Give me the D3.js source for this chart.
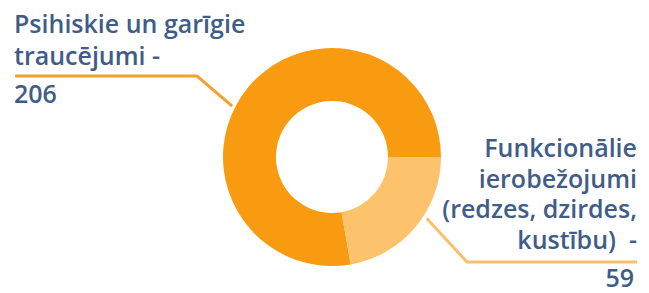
<!DOCTYPE html>
<html>
<head>
<meta charset="utf-8">
<script src="https://cdn.jsdelivr.net/npm/d3@7"></script>
<style>
  html, body { margin: 0; padding: 0; background: #fff; }
  svg { display: block; }
  .lbl { font-family: "Open Sans", Lato, sans-serif; font-weight: 600; fill: #3f5d87; white-space: pre; }
</style>
</head>
<body>
<svg id="chart" width="649" height="293"></svg>
<script>
// data
const categories = ["Psihiskie un garīgie traucējumi", "Funkcionālie ierobežojumi (redzes, dzirdes, kustību)"];
const values = [206, 59];
const labelLines = [
    ["Psihiskie un garīgie", "traucējumi -"],
    ["Funkcionālie", "ierobežojumi", "(redzes, dzirdes,", "kustību)  -"]
];
const colors = ["#f99b10", "#fdc36c"];

const W = 649, H = 293;
const cx = 332, cy = 157;
const outerR = 109, innerR = 56;
const fontSize = 25;

const svg = d3.select('#chart');
const g = svg.append('g').attr('transform', `translate(${cx},${cy})`);

// light slice starts at 3 o'clock, dark slice fills the rest
const share = values[1] / d3.sum(values);
const start = Math.PI / 2 + 2 * Math.PI * share;
const pie = d3.pie().sort(null).startAngle(start).endAngle(start + 2 * Math.PI);
const arcs = pie(values);
const arc = d3.arc().innerRadius(innerR).outerRadius(outerR);

g.selectAll('path.slice')
    .data(arcs)
    .enter().append('path')
    .attr('class', 'slice')
    .attr('d', arc)
    .attr('fill', (d, i) => colors[i]);

// leader lines: from the ring edge to an elbow, then flat under the label
const pt = (ang, r) => [r * Math.sin(ang), -r * Math.cos(ang)];
const deg = a => a * Math.PI / 180;
const leaders = [
    { from: pt(deg(297), outerR + 3), elbow: [197 - cx, 76 - cy], end: [15 - cx, 76 - cy] },
    { from: pt(deg(123), outerR + 4), elbow: [467 - cx, 262 - cy], end: [637 - cx, 262 - cy] }
];

g.selectAll('path.leader')
    .data(leaders)
    .enter().append('path')
    .attr('class', 'leader')
    .attr('d', d => d3.line()([d.from, d.elbow, d.end]))
    .attr('fill', 'none')
    .attr('stroke', (d, i) => i === 0 ? '#f3a12e' : '#f7c06a')
    .attr('stroke-width', 3);

// labels
const left = svg.append('text').attr('class', 'lbl').attr('font-size', fontSize);
labelLines[0].forEach((s, i) => {
    left.append('tspan').attr('x', 14).attr('y', 33 + i * 32).text(s);
});
svg.append('text').attr('class', 'lbl').attr('font-size', fontSize)
    .attr('x', 14).attr('y', 103).text(values[0]);

const right = svg.append('text').attr('class', 'lbl').attr('font-size', fontSize)
    .attr('text-anchor', 'end');
labelLines[1].forEach((s, i) => {
    right.append('tspan').attr('x', 637).attr('y', 157 + i * 30.7).text(s);
});
svg.append('text').attr('class', 'lbl').attr('font-size', fontSize)
    .attr('text-anchor', 'end')
    .attr('x', 634).attr('y', 287).text(values[1]);
</script>
</body>
</html>
